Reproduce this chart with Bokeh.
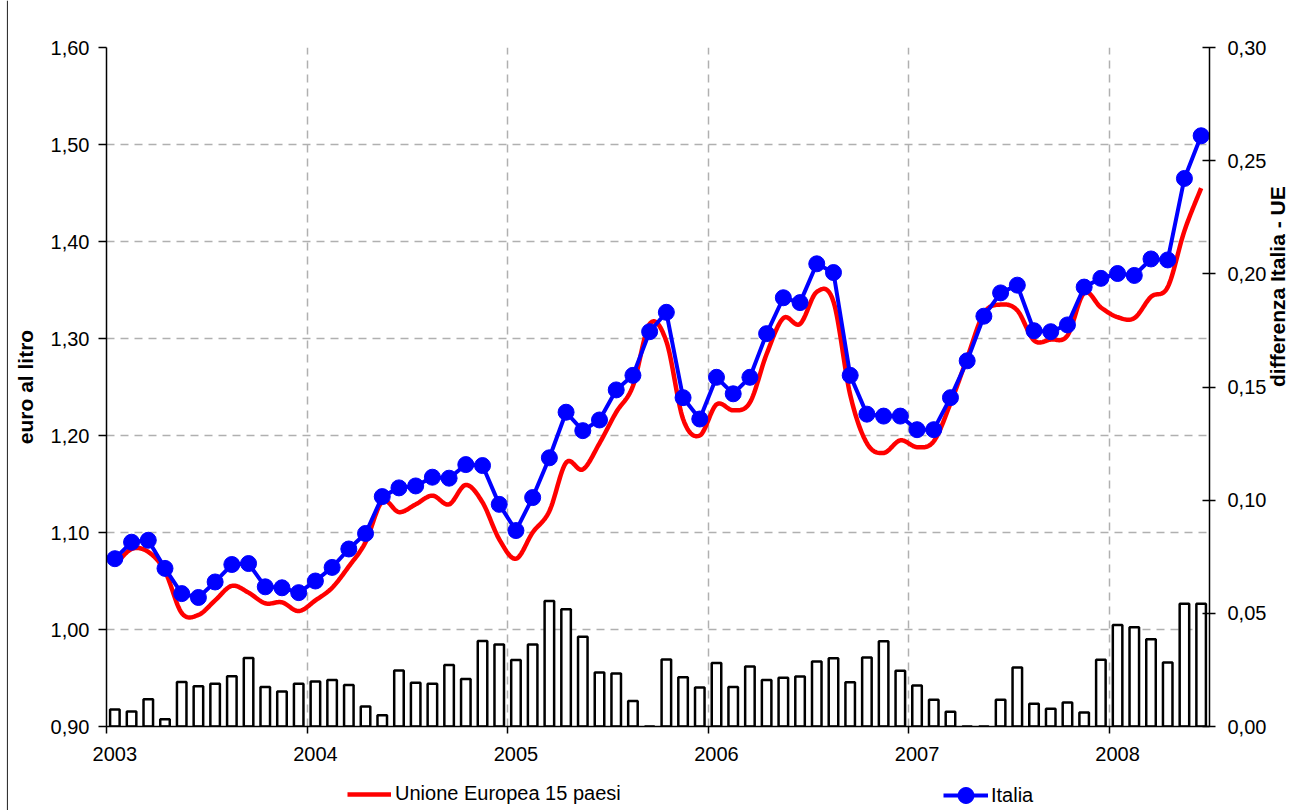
import numpy as np
from bokeh.plotting import figure
from bokeh.layouts import column, row
from bokeh.models import (Range1d, LinearAxis, FixedTicker, CustomJSTickFormatter,
                          Legend, LegendItem, Span)
from bokeh.embed import file_html
from bokeh.resources import INLINE

# ---------------- data ----------------
years = ["2003", "2004", "2005", "2006", "2007", "2008"]
months = list(range(66))  # Jan 2003 .. Jun 2008

italia = [1.073, 1.090, 1.092, 1.063, 1.037, 1.033, 1.049, 1.067, 1.068, 1.044, 1.043, 1.038,
          1.050, 1.064, 1.083, 1.099, 1.137, 1.146, 1.148, 1.157, 1.156, 1.170, 1.169, 1.129,
          1.102, 1.136, 1.177, 1.224, 1.205, 1.216, 1.247, 1.262, 1.307, 1.327, 1.239, 1.217,
          1.260, 1.243, 1.260, 1.305, 1.342, 1.337, 1.377, 1.368, 1.262, 1.222, 1.220, 1.220,
          1.206, 1.206, 1.239, 1.277, 1.323, 1.347, 1.355, 1.308, 1.307, 1.314, 1.353, 1.362,
          1.367, 1.365, 1.382, 1.381, 1.465, 1.509]

ue15 = [1.066, 1.083, 1.080, 1.060, 1.017, 1.015, 1.030, 1.045, 1.038, 1.027, 1.028, 1.019,
        1.030, 1.043, 1.065, 1.090, 1.132, 1.121, 1.129, 1.138, 1.129, 1.149, 1.131, 1.093,
        1.073, 1.100, 1.122, 1.172, 1.165, 1.192, 1.224, 1.251, 1.315, 1.297, 1.217, 1.200,
        1.232, 1.226, 1.234, 1.284, 1.321, 1.315, 1.348, 1.338, 1.242, 1.192, 1.182, 1.195,
        1.188, 1.194, 1.233, 1.280, 1.326, 1.335, 1.329, 1.298, 1.299, 1.303, 1.347, 1.332,
        1.322, 1.321, 1.343, 1.353, 1.411, 1.455]

diff = [0.0075, 0.0066, 0.0120, 0.0032, 0.0197, 0.0178, 0.0189, 0.0222, 0.0303, 0.0174, 0.0155, 0.0189,
        0.0199, 0.0206, 0.0183, 0.0088, 0.0050, 0.0247, 0.0193, 0.0189, 0.0272, 0.0210, 0.0378, 0.0362,
        0.0294, 0.0362, 0.0555, 0.0518, 0.0396, 0.0239, 0.0234, 0.0113, -0.008, 0.0296, 0.0218, 0.0172,
        0.0281, 0.0175, 0.0265, 0.0206, 0.0215, 0.0221, 0.0287, 0.0302, 0.0196, 0.0305, 0.0377, 0.0246,
        0.0181, 0.0118, 0.0065, -0.003, -0.003, 0.0118, 0.0261, 0.0100, 0.0078, 0.0106, 0.0062, 0.0295,
        0.0449, 0.0439, 0.0386, 0.0283, 0.0542, 0.0542]

left_ticks = [0.90, 1.00, 1.10, 1.20, 1.30, 1.40, 1.50, 1.60]
right_ticks = [0.00, 0.05, 0.10, 0.15, 0.20, 0.25, 0.30]

FONT = "Liberation Sans"
RED = "#FF0000"
BLUE = "#0000FF"


def smooth(xs, ys, n=16):
    """Excel-style smoothed line (Catmull-Rom Bezier)."""
    P = np.column_stack([np.asarray(xs, float), np.asarray(ys, float)])
    ext = np.vstack([P[0], P, P[-1]])
    out = []
    t = np.linspace(0, 1, n, endpoint=False)[:, None]
    for i in range(len(P) - 1):
        p0, p1, p2, p3 = ext[i], ext[i + 1], ext[i + 2], ext[i + 3]
        c1 = p1 + (p2 - p0) / 6.0
        c2 = p2 - (p3 - p1) / 6.0
        seg = (1 - t) ** 3 * p1 + 3 * (1 - t) ** 2 * t * c1 + 3 * (1 - t) * t ** 2 * c2 + t ** 3 * p2
        out.append(seg)
    out.append(P[-1:])
    pts = np.vstack(out)
    return pts[:, 0], pts[:, 1]


n = len(months)
W = 1295
p = figure(width=W, height=770, output_backend="svg", toolbar_location=None,
           x_range=Range1d(-0.5, n - 0.5), y_range=Range1d(left_ticks[0], left_ticks[-1]),
           min_border_left=98, min_border_right=89, min_border_top=47, min_border_bottom=44)
p.outline_line_color = None
p.background_fill_color = "white"
p.border_fill_color = "white"
p.extra_y_ranges = {"diff": Range1d(right_ticks[0], right_ticks[-1])}

comma_fmt = CustomJSTickFormatter(code="return tick.toFixed(2).replace('.', ',');")

# x axis: labels at January, ticks at year boundaries
year_pos = [12 * k for k in range(len(years))]
bounds = [12 * k - 0.5 for k in range(len(years))]
xax = p.xaxis[0]
xax.ticker = FixedTicker(ticks=year_pos, minor_ticks=bounds)
xax.formatter = CustomJSTickFormatter(args=dict(labels=years),
                                      code="return labels[Math.round(tick/12)];")
xax.major_tick_out = 0
xax.major_tick_in = 0
xax.minor_tick_out = 7
xax.minor_tick_in = 0
xax.minor_tick_line_color = "black"
xax.minor_tick_line_width = 1.5
xax.axis_line_color = "black"
xax.axis_line_width = 1.5
xax.major_label_standoff = 13
xax.major_label_text_font = FONT
xax.major_label_text_font_size = "20px"
xax.major_label_text_color = "black"

# left axis
yax = p.yaxis[0]
yax.ticker = FixedTicker(ticks=left_ticks)
yax.formatter = comma_fmt
yax.major_tick_out = 8
yax.major_tick_in = 0
yax.major_tick_line_color = "black"
yax.major_tick_line_width = 1.5
yax.axis_line_color = "black"
yax.axis_line_width = 1.5
yax.major_label_standoff = 9
yax.major_label_text_font = FONT
yax.major_label_text_font_size = "20px"
yax.major_label_text_color = "black"
yax.axis_label = "euro al litro"
yax.axis_label_standoff = 11
yax.axis_label_text_font = FONT
yax.axis_label_text_font_size = "21px"
yax.axis_label_text_font_style = "bold"
yax.axis_label_text_color = "black"

# right axis
rax = LinearAxis(y_range_name="diff", ticker=FixedTicker(ticks=right_ticks), formatter=comma_fmt)
rax.major_tick_out = 6
rax.major_tick_in = 7
rax.major_tick_line_color = "black"
rax.major_tick_line_width = 1.5
rax.axis_line_color = "black"
rax.axis_line_width = 1.5
rax.major_label_standoff = 12
rax.major_label_text_font = FONT
rax.major_label_text_font_size = "20px"
rax.major_label_text_color = "black"
rax.axis_label = "differenza Italia - UE"
rax.axis_label_orientation = np.pi / 2
rax.axis_label_standoff = 8
rax.axis_label_text_font = FONT
rax.axis_label_text_font_size = "21px"
rax.axis_label_text_font_style = "bold"
rax.axis_label_text_color = "black"
p.add_layout(rax, "right")

# grids
p.xgrid.ticker = FixedTicker(ticks=bounds)
for g in (p.xgrid[0], p.ygrid[0]):
    g.grid_line_color = "#b0b0b0"
    g.grid_line_width = 1.5
    g.grid_line_dash = "8 6"

# bars (difference)
p.vbar(x=months, top=diff, bottom=0, width=0.57, y_range_name="diff",
       fill_color="white", line_color="black", line_width=2.5)

# EU smoothed line
sx, sy = smooth(months, ue15)
p.line(sx, sy, line_color=RED, line_width=4.5, line_join="round")

# Italy line with markers
p.line(months, italia, line_color=BLUE, line_width=4, line_join="round")
p.scatter(months, italia, size=16, fill_color=BLUE, line_color=BLUE)

# ---------------- legend strip (separate figure under the chart) ----------------
q = figure(width=W, height=40, output_backend="svg", toolbar_location=None,
           x_range=p.x_range, y_range=Range1d(0, 1),
           x_axis_type=None, y_axis_type=None,
           min_border_left=98, min_border_right=89, min_border_top=0, min_border_bottom=0)
q.outline_line_color = None
q.background_fill_color = "white"
q.border_fill_color = "white"
# legend samples share the chart's styles; their data lie outside the strip's view
lr = q.line([0, 1], [5, 5], line_color=RED, line_width=4.5)
lb = q.line([0, 1], [5, 5], line_color=BLUE, line_width=4)
lm = q.scatter([0], [5], size=16, fill_color=BLUE, line_color=BLUE)

leg1 = Legend(items=[LegendItem(label="Unione Europea 15 paesi", renderers=[lr])],
              location=(241, 5), glyph_width=44, glyph_height=20, label_height=20,
              label_standoff=4, padding=0, margin=0,
              border_line_color=None, background_fill_alpha=0,
              label_text_font=FONT, label_text_font_size="20px", label_text_color="black")
leg2 = Legend(items=[LegendItem(label="Italia", renderers=[lb, lm])],
              location=(837, -5), glyph_width=45, glyph_height=40, label_height=20,
              label_standoff=3, padding=0, margin=0,
              border_line_color=None, background_fill_alpha=0,
              label_text_font=FONT, label_text_font_size="20px", label_text_color="black")
q.add_layout(leg1)
q.add_layout(leg2)

# thin chart-area border on the left edge
b = figure(width=8, height=810, output_backend="svg", toolbar_location=None,
           x_range=Range1d(0, 8), y_range=Range1d(0, 1),
           x_axis_type=None, y_axis_type=None,
           min_border_left=0, min_border_right=0, min_border_top=0, min_border_bottom=0)
b.outline_line_color = None
b.background_fill_color = "white"
b.border_fill_color = "white"
b.add_layout(Span(location=7, dimension="height", line_color="#333333", line_width=1.2))

layout = row(b, column(p, q, spacing=0), spacing=0)
open("out.html", "w").write(file_html(layout, INLINE))
